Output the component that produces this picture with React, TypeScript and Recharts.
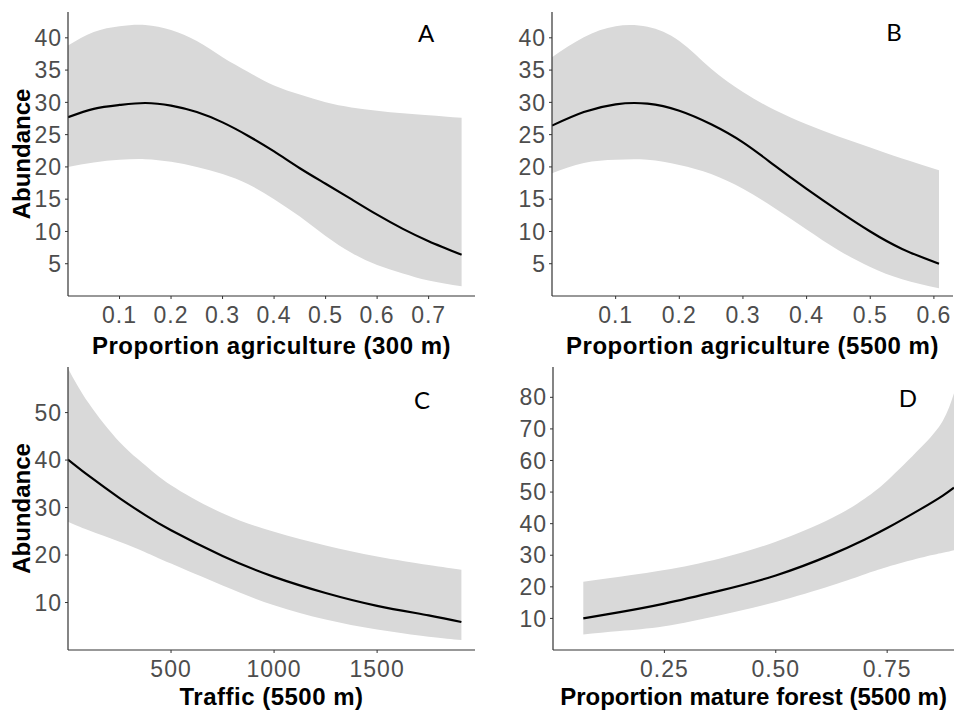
import React from "react";
import { ComposedChart, Area, Line, XAxis, YAxis } from "recharts";

// A: proportion agriculture (300 m)
const agri300X = [0, 0.05, 0.1, 0.15, 0.2, 0.25, 0.3, 0.35, 0.4, 0.45, 0.5, 0.55, 0.6, 0.65, 0.7, 0.764];
const agri300Fit = [27.7, 29.0, 29.6, 29.9, 29.5, 28.5, 26.9, 24.8, 22.4, 19.8, 17.4, 15.0, 12.6, 10.4, 8.5, 6.4];
const agri300Lo = [20.0, 20.7, 21.1, 21.2, 20.8, 20.0, 18.9, 17.3, 15.0, 12.3, 9.3, 6.7, 4.8, 3.5, 2.4, 1.5];
const agri300Hi = [38.8, 40.9, 41.8, 42.0, 41.2, 39.5, 37.0, 34.7, 32.6, 31.2, 30.0, 29.2, 28.7, 28.3, 28.0, 27.6];

// B: proportion agriculture (5500 m)
const agri5500X = [0, 0.05, 0.1, 0.15, 0.2, 0.25, 0.3, 0.35, 0.4, 0.45, 0.5, 0.55, 0.608];
const agri5500Fit = [26.4, 28.5, 29.7, 29.8, 28.7, 26.6, 23.8, 20.2, 16.6, 13.2, 10.0, 7.3, 5.0];
const agri5500Lo = [19.0, 20.6, 21.1, 21.1, 20.3, 18.9, 16.6, 13.6, 10.3, 7.1, 4.5, 2.6, 1.2];
const agri5500Hi = [37.0, 40.1, 41.8, 41.7, 39.5, 35.2, 31.6, 28.8, 26.6, 24.7, 23.0, 21.3, 19.5];

// C: traffic (5500 m)
const trafficX = [0, 100, 250, 375, 500, 750, 1000, 1250, 1500, 1750, 1909];
const trafficFit = [40.1, 36.7, 32.0, 28.4, 25.2, 19.8, 15.4, 12.0, 9.3, 7.3, 5.9];
const trafficLo = [27.0, 25.2, 22.8, 20.6, 18.2, 13.6, 9.4, 6.4, 4.3, 2.8, 2.1];
const trafficHi = [59.3, 52.0, 43.8, 38.9, 34.7, 28.8, 24.9, 22.0, 19.7, 17.9, 16.9];

// D: proportion mature forest (5500 m)
const forestX = [0.068, 0.15, 0.25, 0.375, 0.5, 0.625, 0.7, 0.75, 0.825, 0.875, 0.9];
const forestFit = [10.0, 12.0, 14.7, 18.8, 23.6, 30.2, 35.0, 38.6, 44.6, 48.9, 51.4];
const forestLo = [4.9, 6.0, 7.5, 11.0, 15.2, 20.4, 24.0, 26.3, 29.2, 30.8, 31.6];
const forestHi = [21.6, 23.2, 25.3, 29.0, 34.3, 41.7, 48.0, 53.6, 64.0, 72.6, 81.3];

const agri300Ticks = [0.1, 0.2, 0.3, 0.4, 0.5, 0.6, 0.7];
const agri5500Ticks = [0.1, 0.2, 0.3, 0.4, 0.5, 0.6];
const trafficTicks = [500, 1000, 1500];
const forestTicks = [0.25, 0.5, 0.75];
const abundTicksAB = [5, 10, 15, 20, 25, 30, 35, 40];
const abundTicksC = [10, 20, 30, 40, 50];
const abundTicksD = [10, 20, 30, 40, 50, 60, 70, 80];

const rows = (xs, fit, lo, hi) =>
  xs.map((x, i) => ({ x, fit: fit[i], band: [lo[i], hi[i]] }));

const FONT = '"Liberation Sans", Arial, Helvetica, sans-serif';
const AXIS = "#333333";
const TICK_TEXT = "#4d4d4d";

const Panel = ({
  data,
  xDomain,
  xTicks,
  yDomain,
  yTicks,
  xTitle,
  yTitle,
  height,
  margin,
  yAxisWidth,
  xAxisHeight,
  titleOffset,
  titleSpacing = 0.5,
  xFmt,
}) => (
  <ComposedChart width={477} height={height} data={data} margin={margin}>
    <XAxis
      type="number"
      dataKey="x"
      domain={xDomain}
      ticks={xTicks}
      interval={0}
      allowDataOverflow
      height={xAxisHeight}
      tickFormatter={xFmt}
      axisLine={{ stroke: AXIS, strokeWidth: 1.2 }}
      tickLine={{ stroke: AXIS }}
      tickSize={3}
      tickMargin={8}
      tick={{ fill: TICK_TEXT, fontSize: 23, letterSpacing: 1 }}
      label={{
        value: xTitle,
        position: "insideBottom",
        offset: titleOffset,
        fill: "#000",
        style: { fontWeight: 700, fontSize: 24, letterSpacing: titleSpacing },
      }}
    />
    <YAxis
      type="number"
      domain={yDomain}
      ticks={yTicks}
      interval={0}
      allowDataOverflow
      width={yAxisWidth}
      axisLine={{ stroke: AXIS, strokeWidth: 1.2 }}
      tickLine={{ stroke: AXIS }}
      tickSize={3}
      tickMargin={3}
      tick={{ fill: TICK_TEXT, fontSize: 23, letterSpacing: 1 }}
      label={
        yTitle
          ? {
              value: yTitle,
              angle: -90,
              position: "insideLeft",
              offset: 21,
              fill: "#000",
              style: { fontWeight: 700, fontSize: 24, textAnchor: "middle" },
            }
          : undefined
      }
    />
    <Area
      type="natural"
      dataKey="band"
      fill="#d9d9d9"
      fillOpacity={1}
      stroke="none"
      isAnimationActive={false}
    />
    <Line
      type="natural"
      dataKey="fit"
      stroke="#000"
      strokeWidth={2.2}
      dot={false}
      activeDot={false}
      isAnimationActive={false}
    />
  </ComposedChart>
);

const letters = [
  { t: "A", x: 426, y: 42 },
  { t: "B", x: 894, y: 41 },
  { t: "C", x: 422, y: 409 },
  { t: "D", x: 908, y: 407 },
];

export default function App() {
  return (
    <div
      style={{
        position: "absolute",
        left: 0,
        top: 0,
        width: 954,
        height: 710,
        background: "#fff",
        fontFamily: FONT,
        overflow: "hidden",
      }}
    >
      <div style={{ position: "absolute", left: 0, top: 0 }}>
        <Panel
          data={rows(agri300X, agri300Fit, agri300Lo, agri300Hi)}
          xDomain={[0, 0.79]}
          xTicks={agri300Ticks}
          yDomain={[0, 44]}
          yTicks={abundTicksAB}
          xTitle="Proportion agriculture (300 m)"
          yTitle="Abundance"
          height={365}
          margin={{ top: 12, right: 2, bottom: 0, left: 0 }}
          yAxisWidth={68}
          xAxisHeight={69}
          titleOffset={11}
        />
      </div>
      <div style={{ position: "absolute", left: 477, top: 0 }}>
        <Panel
          data={rows(agri5500X, agri5500Fit, agri5500Lo, agri5500Hi)}
          xDomain={[0, 0.63]}
          xTicks={agri5500Ticks}
          yDomain={[0, 44]}
          yTicks={abundTicksAB}
          xTitle="Proportion agriculture (5500 m)"
          height={365}
          margin={{ top: 12, right: 1, bottom: 0, left: 0 }}
          yAxisWidth={75}
          xAxisHeight={69}
          titleOffset={11}
        />
      </div>
      <div style={{ position: "absolute", left: 0, top: 355 }}>
        <Panel
          data={rows(trafficX, trafficFit, trafficLo, trafficHi)}
          xDomain={[0, 1975]}
          xTicks={trafficTicks}
          yDomain={[0, 59.6]}
          yTicks={abundTicksC}
          xTitle="Traffic (5500 m)"
          yTitle="Abundance"
          height={355}
          margin={{ top: 12, right: 2, bottom: 0, left: 0 }}
          yAxisWidth={68}
          xAxisHeight={60}
          titleOffset={5}
        />
      </div>
      <div style={{ position: "absolute", left: 477, top: 355 }}>
        <Panel
          data={rows(forestX, forestFit, forestLo, forestHi)}
          xDomain={[0, 0.9]}
          xTicks={forestTicks}
          yDomain={[0, 89.6]}
          yTicks={abundTicksD}
          xTitle="Proportion mature forest (5500 m)"
          height={355}
          margin={{ top: 12, right: 0, bottom: 0, left: 0 }}
          yAxisWidth={76}
          xAxisHeight={60}
          titleOffset={5}
          titleSpacing={0}
          xFmt={(v) => v.toFixed(2)}
        />
      </div>
      <svg
        width={954}
        height={710}
        style={{ position: "absolute", left: 0, top: 0, pointerEvents: "none" }}
      >
        {letters.map((l) => (
          <text
            key={l.t}
            x={l.x}
            y={l.y}
            textAnchor="middle"
            fontFamily="Lato, 'Open Sans', sans-serif"
            fontSize={24}
            fill="#000"
          >
            {l.t}
          </text>
        ))}
      </svg>
    </div>
  );
}
